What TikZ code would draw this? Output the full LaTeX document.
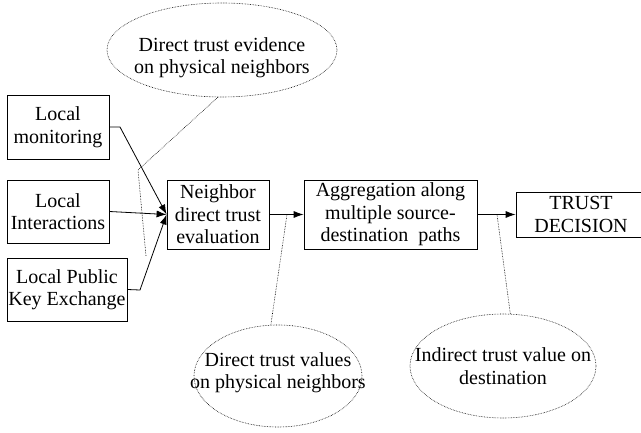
\documentclass[tikz,border=0pt]{standalone}
\usepackage{fontspec}
\setmainfont{Liberation Serif}
\usetikzlibrary{shapes.geometric,arrows.meta}
\begin{document}
\begin{tikzpicture}[x=1pt,y=-1pt,
  txt/.style={font=\fontsize{20}{22.5}\selectfont, align=center, inner sep=0pt},
  boxnode/.style={txt, draw, line width=0.8pt},
  bubble/.style={txt, ellipse, draw, densely dotted, line width=0.6pt, inner xsep=-40pt, inner ysep=-10pt},
  conn/.style={line width=0.8pt},
  arr/.style={conn, -{Latex[length=10pt,width=7pt]}},
  callout/.style={densely dotted, line width=0.6pt}]
\clip (0,0) rectangle (641,433);
\fill[white] (0,0) rectangle (641,433);
% boxes
\node[boxnode, minimum width=102pt, minimum height=64pt] (lm) at (58,127) {Local\\monitoring};
\node[boxnode, minimum width=102pt, minimum height=63pt] (li) at (58,211.5) {Local\\Interactions};
\node[boxnode, minimum width=120pt, minimum height=63pt] (lp) at (67,289.5) {Local Public\\Key Exchange};
\node[boxnode, minimum width=102pt, minimum height=69pt] (nb) at (218,214.5) {Neighbor\\direct trust\\evaluation};
\node[boxnode, minimum width=173pt, minimum height=69pt] (ag) at (390.5,214.5) {Aggregation along\\multiple source-\\destination~ paths};
\node[boxnode, minimum width=130pt, minimum height=45pt] (td) at (581,214.5) {TRUST\\DECISION};
% ellipses
\node[bubble, minimum width=230pt, minimum height=94pt] (e1) at (222,50) {\raisebox{-8pt}[\height][\depth]{\begin{tabular}{@{}c@{}}Direct trust evidence\\on physical neighbors\end{tabular}}};
\node[bubble, minimum width=168pt, minimum height=102pt] (e2) at (278,376) {\raisebox{3pt}[\height][\depth]{\begin{tabular}{@{}c@{}}Direct trust values\\on physical neighbors\end{tabular}}};
\node[bubble, minimum width=186pt, minimum height=104pt] (e3) at (503,366) {Indirect trust value on\\destination};
% connectors
\coordinate (k1) at (120,127);
\coordinate (k3) at (140,290);
\draw[arr] (lm.east) -- (k1) -- (nb.west);
\draw[arr] (li.east) -- (nb.west);
\draw[arr] (lp.east) -- (k3) -- (nb.west);
\draw[arr] (nb.east) -- (ag.west);
\draw[arr] (ag.east |- td.west) -- (td.west);
% callouts
\coordinate (c1) at (138,170);
\coordinate (c2) at (146,256);
\coordinate (c3) at (287,214.5);
\coordinate (c4) at (497,214.5);
\draw[callout] (e1.265) -- (c1) -- (c2);
\draw[callout] (e2.98) -- (c3);
\draw[callout] (e3.82) -- (c4);
\end{tikzpicture}
\end{document}
